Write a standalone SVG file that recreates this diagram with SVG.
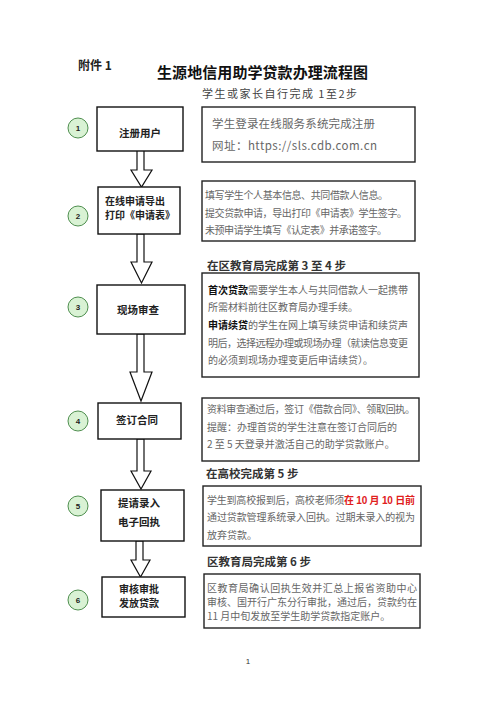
<svg xmlns="http://www.w3.org/2000/svg" width="500" height="707" viewBox="0 0 500 707">
<style>
.box{fill:#fff;stroke:#111;stroke-width:1.4}
.info{fill:#fff;stroke:#222;stroke-width:1.4}
.circ{fill:#d9f2d4;stroke:#4f8f4f;stroke-width:1}
.num{font-family:"Liberation Sans","Noto Sans CJK SC",sans-serif;font-size:8px;font-weight:bold;fill:#222;text-anchor:middle}
.node{font-family:"Noto Sans CJK SC",sans-serif;font-size:10.5px;font-weight:bold;fill:#222}
.sm{font-size:10px}
.c{text-anchor:middle}
.body{font-family:"Noto Sans CJK SC",sans-serif;font-size:10px;fill:#666}
.b{font-weight:bold;fill:#111}
.red{font-weight:bold;fill:#e0201c}
.head{font-family:"Noto Sans CJK SC",sans-serif;font-size:11.5px;font-weight:bold;fill:#333}
.arrow{fill:#fff;stroke:#111;stroke-width:1.2}
</style>
<rect width="500" height="707" fill="#fff"/>
<text x="78" y="70" font-family="Noto Sans CJK SC,sans-serif" font-size="12" font-weight="bold" fill="#222">附件 1</text>
<text x="157" y="78" font-family="Noto Sans CJK SC,sans-serif" font-size="15" font-weight="bold" fill="#111" textLength="211">生源地信用助学贷款办理流程图</text>
<text x="202" y="98" class="body" style="font-size:11px;fill:#444" textLength="155">学生或家长自行完成 1至2步</text>

<g id="connectors">
<path class="arrow" d="M137,150 L144,150 L144,170 L152,170 L141.5,187 L131,170 L137,170 Z"/>
<path class="arrow" d="M137,234 L144,234 L144,262 L152,262 L141.5,283 L131,262 L137,262 Z"/>
<path class="arrow" d="M137,334 L144,334 L144,372 L152,372 L141,401 L130,372 L137,372 Z"/>
<path class="arrow" d="M137,439 L144,439 L144,471 L151,471 L141,489 L131,471 L137,471 Z"/>
<path class="arrow" d="M136,541 L143,541 L143,560 L150,560 L140.5,577 L131,560 L136,560 Z"/>
</g>

<g id="step1">
<circle class="circ" cx="78" cy="128" r="10"/>
<text class="num" x="78" y="131">1</text>
<rect class="box" x="97" y="107" width="86" height="44"/>
<text class="node c" x="140" y="137">注册用户</text>
<rect class="info" x="202" y="107" width="213" height="55"/>
<text class="body" x="212" y="128" style="font-size:11.5px" textLength="163">学生登录在线服务系统完成注册</text>
<text class="body" x="212" y="150" style="font-size:11.5px" textLength="165">网址：https://sls.cdb.com.cn</text>
</g>

<g id="step2">
<circle class="circ" cx="78" cy="216" r="10"/>
<text class="num" x="78" y="219">2</text>
<rect class="box" x="98" y="187" width="82" height="47"/>
<text class="node sm" x="105" y="205">在线申请导出</text>
<text class="node sm" x="105" y="219">打印《申请表》</text>
<rect class="info" x="202" y="181" width="213" height="60"/>
<text class="body" x="205" y="199" textLength="183">填写学生个人基本信息、共同借款人信息。</text>
<text class="body" x="205" y="217" textLength="202">提交贷款申请，导出打印《申请表》学生签字。</text>
<text class="body" x="205" y="234" textLength="182">未预申请学生填写《认定表》并承诺签字。</text>
</g>

<text class="head" x="207" y="270">在区教育局完成第 3 至 4 步</text>

<g id="step3">
<circle class="circ" cx="78" cy="307" r="10"/>
<text class="num" x="78" y="310">3</text>
<rect class="box" x="97" y="285" width="88" height="49"/>
<text class="node c" x="138" y="314">现场审查</text>
<rect class="info" x="202" y="273" width="217" height="104"/>
<text class="body" x="208" y="294" textLength="200"><tspan class="b">首次贷款</tspan>需要学生本人与共同借款人一起携带</text>
<text class="body" x="208" y="311">所需材料前往区教育局办理手续。</text>
<text class="body" x="208" y="329" textLength="200"><tspan class="b">申请续贷</tspan>的学生在网上填写续贷申请和续贷声</text>
<text class="body" x="208" y="347" textLength="200">明后，选择远程办理或现场办理（就读信息变更</text>
<text class="body" x="208" y="364">的必须到现场办理变更后申请续贷）。</text>
</g>

<g id="step4">
<circle class="circ" cx="78" cy="421" r="10"/>
<text class="num" x="78" y="424">4</text>
<rect class="box" x="98" y="403" width="83" height="36"/>
<text class="node c" x="137" y="424">签订合同</text>
<rect class="info" x="202" y="398" width="217" height="63"/>
<text class="body" x="207" y="413" textLength="208">资料审查通过后，签订《借款合同》、领取回执。</text>
<text class="body" x="207" y="431">提醒：办理首贷的学生注意在签订合同后的</text>
<text class="body" x="207" y="448">2 至 5 天登录并激活自己的助学贷款账户。</text>
</g>

<text class="head" x="206" y="478">在高校完成第 5 步</text>

<g id="step5">
<circle class="circ" cx="78" cy="506" r="10"/>
<text class="num" x="78" y="509">5</text>
<rect class="box" x="101" y="490" width="83" height="51"/>
<text class="node c" x="139" y="507">提请录入</text>
<text class="node c" x="139" y="526">电子回执</text>
<rect class="info" x="203" y="486" width="218" height="60"/>
<text class="body" x="207" y="504" textLength="208">学生到高校报到后，高校老师须<tspan class="red" style="font-family:'Liberation Sans','Noto Sans CJK SC',sans-serif">在 10 月 10 日前</tspan></text>
<text class="body" x="207" y="521" textLength="208">通过贷款管理系统录入回执。过期未录入的视为</text>
<text class="body" x="207" y="539">放弃贷款。</text>
</g>

<text class="head" x="207" y="566">区教育局完成第 6 步</text>

<g id="step6">
<circle class="circ" cx="78" cy="600" r="10"/>
<text class="num" x="78" y="603">6</text>
<rect class="box" x="102" y="577" width="83" height="40"/>
<text class="node sm c" x="139" y="593">审核审批</text>
<text class="node sm c" x="139" y="607">发放贷款</text>
<rect class="info" x="204" y="574" width="216" height="54"/>
<text class="body" x="207" y="592" textLength="210">区教育局确认回执生效并汇总上报省资助中心</text>
<text class="body" x="207" y="606" textLength="210">审核、国开行广东分行审批，通过后，贷款约在</text>
<text class="body" x="207" y="620">11 月中旬发放至学生助学贷款指定账户。</text>
</g>

<text x="248" y="664" font-family="Liberation Sans,sans-serif" font-size="8" fill="#333" text-anchor="middle">1</text>
</svg>
